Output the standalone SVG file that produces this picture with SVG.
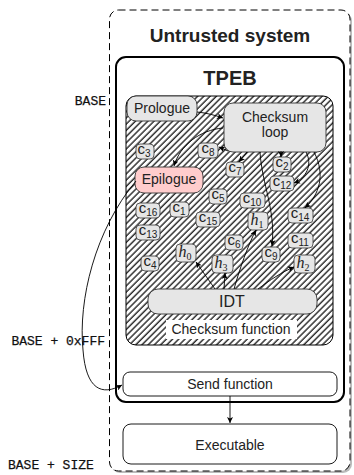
<svg xmlns="http://www.w3.org/2000/svg" width="354" height="475" viewBox="0 0 354 475">
<defs>
<pattern id="hatch" width="4.4" height="4.4" patternUnits="userSpaceOnUse" patternTransform="rotate(45)">
<line x1="1" y1="-1" x2="1" y2="5.4" stroke="#000" stroke-width="1.2"/>
</pattern>
<marker id="ah" markerWidth="7" markerHeight="6" refX="6" refY="3" orient="auto" markerUnits="userSpaceOnUse">
<path d="M0,0 L6,3 L0,6 L1.5,3 z" fill="#000"/>
</marker>
<style>
.t{font-family:"Liberation Sans",Arial,sans-serif;fill:#222;text-anchor:middle}
.m{font-family:"Liberation Mono","Courier New",monospace;font-size:13px;fill:#111;stroke:#111;stroke-width:0.25}
.nd{fill:#e6e6e6;stroke:#333;stroke-width:0.9}
.sm{fill:#e6e6e6;stroke:#333;stroke-width:0.8}
.st{font-family:"Liberation Sans",Arial,sans-serif;font-size:14px;fill:#222;text-anchor:middle}
.ct{font-family:"Liberation Sans",Arial,sans-serif;font-size:15px;fill:#222;text-anchor:middle}
.hi{font-family:"Liberation Serif","Times New Roman",serif;font-style:italic;font-size:16px;fill:#222;text-anchor:middle}
.sub{font-size:10px;font-style:normal}
.cn{fill:none;stroke:#000;stroke-width:0.9;marker-end:url(#ah)}
</style>
</defs>
<rect width="354" height="475" fill="#fff"/>

<g id="untrusted">
<rect x="111" y="12" width="241" height="461" rx="9" fill="#bbb"/>
<rect x="109.5" y="10" width="240.5" height="461" rx="9" fill="#fff" stroke="#000" stroke-width="1" stroke-dasharray="7,4"/>
<text class="t" x="230" y="42" font-size="19" font-weight="bold">Untrusted system</text>
</g>

<g id="labels">
<text class="m" x="106" y="105" text-anchor="end">BASE</text>
<text class="m" x="105" y="345" text-anchor="end">BASE + 0xFFF</text>
<text class="m" x="8" y="469">BASE + SIZE</text>
</g>

<g id="tpeb">
<rect x="116" y="57" width="228" height="345" rx="10" fill="#fff" stroke="#000" stroke-width="2"/>
<text class="t" x="230" y="85" font-size="20" font-weight="bold">TPEB</text>
</g>

<g id="checksum-function">
<rect x="126" y="96" width="207" height="249" rx="10" fill="url(#hatch)" stroke="#000" stroke-width="1"/>
<rect x="166" y="320" width="131" height="19" fill="#fff"/>
<text class="st" x="231" y="334">Checksum function</text>
</g>

<g id="prologue">
<rect class="nd" x="127" y="96" width="70" height="25" rx="9"/>
<text class="st" x="162" y="113">Prologue</text>
</g>

<g id="checksum-loop">
<rect class="nd" x="224" y="103" width="102" height="49" rx="9"/>
<text class="st" x="275" y="122">Checksum</text>
<text class="st" x="275" y="137">loop</text>
</g>

<g id="epilogue">
<rect x="135" y="167" width="68" height="26" rx="9" fill="#ffcccc" stroke="#333" stroke-width="0.9"/>
<text class="st" x="169" y="184">Epilogue</text>
</g>

<g id="idt">
<rect class="nd" x="148" y="289" width="169" height="25" rx="10"/>
<text class="t" x="232" y="307" font-size="16">IDT</text>
</g>

<g id="send">
<rect x="123" y="372" width="214" height="24" rx="7" fill="#fff" stroke="#000" stroke-width="0.9"/>
<text class="st" x="230" y="389">Send function</text>
</g>

<g id="executable">
<rect x="123" y="424" width="214" height="40" rx="8" fill="#fff" stroke="#000" stroke-width="0.9"/>
<text class="st" x="230" y="450">Executable</text>
</g>

<g id="c3"><rect class="sm" x="136" y="144" width="18" height="15" rx="4"/><text class="ct" x="144" y="154">c<tspan class="sub" dy="3">3</tspan></text></g>
<g id="c8"><rect class="sm" x="198" y="143" width="20" height="15" rx="4"/><text class="ct" x="208" y="153">c<tspan class="sub" dy="3">8</tspan></text></g>
<g id="c7"><rect class="sm" x="226" y="162" width="18" height="15" rx="4"/><text class="ct" x="235" y="172">c<tspan class="sub" dy="3">7</tspan></text></g>
<g id="c2"><rect class="sm" x="273" y="157" width="18" height="15" rx="4"/><text class="ct" x="282" y="167">c<tspan class="sub" dy="3">2</tspan></text></g>
<g id="c12"><rect class="sm" x="270" y="176" width="24" height="15" rx="4"/><text class="ct" x="282" y="186">c<tspan class="sub" dy="3">12</tspan></text></g>
<g id="c5"><rect class="sm" x="209" y="189" width="18" height="15" rx="4"/><text class="ct" x="218" y="199">c<tspan class="sub" dy="3">5</tspan></text></g>
<g id="c10"><rect class="sm" x="240" y="193" width="25" height="15" rx="4"/><text class="ct" x="252" y="203">c<tspan class="sub" dy="3">10</tspan></text></g>
<g id="c16"><rect class="sm" x="136" y="203" width="24" height="15" rx="4"/><text class="ct" x="148" y="213">c<tspan class="sub" dy="3">16</tspan></text></g>
<g id="c1"><rect class="sm" x="170" y="202" width="19" height="15" rx="4"/><text class="ct" x="179" y="212">c<tspan class="sub" dy="3">1</tspan></text></g>
<g id="c15"><rect class="sm" x="196" y="212" width="24" height="15" rx="4"/><text class="ct" x="208" y="222">c<tspan class="sub" dy="3">15</tspan></text></g>
<g id="h1"><rect class="sm" x="248" y="212" width="20" height="18" rx="4"/><text class="hi" x="257" y="225">h<tspan class="sub" dy="3">1</tspan></text></g>
<g id="c14"><rect class="sm" x="288" y="208" width="25" height="15" rx="4"/><text class="ct" x="300" y="218">c<tspan class="sub" dy="3">14</tspan></text></g>
<g id="c13"><rect class="sm" x="136" y="225" width="24" height="15" rx="4"/><text class="ct" x="148" y="235">c<tspan class="sub" dy="3">13</tspan></text></g>
<g id="c6"><rect class="sm" x="225" y="235" width="18" height="15" rx="4"/><text class="ct" x="234" y="245">c<tspan class="sub" dy="3">6</tspan></text></g>
<g id="c11"><rect class="sm" x="288" y="233" width="25" height="15" rx="4"/><text class="ct" x="300" y="243">c<tspan class="sub" dy="3">11</tspan></text></g>
<g id="h0"><rect class="sm" x="176" y="244" width="20" height="18" rx="4"/><text class="hi" x="185" y="257">h<tspan class="sub" dy="3">0</tspan></text></g>
<g id="c9"><rect class="sm" x="262" y="247" width="18" height="15" rx="4"/><text class="ct" x="271" y="257">c<tspan class="sub" dy="3">9</tspan></text></g>
<g id="c4"><rect class="sm" x="141" y="256" width="18" height="15" rx="4"/><text class="ct" x="150" y="266">c<tspan class="sub" dy="3">4</tspan></text></g>
<g id="h3"><rect class="sm" x="212" y="255" width="21" height="18" rx="4"/><text class="hi" x="221" y="268">h<tspan class="sub" dy="3">3</tspan></text></g>
<g id="h2"><rect class="sm" x="294" y="255" width="21" height="18" rx="4"/><text class="hi" x="303" y="268">h<tspan class="sub" dy="3">2</tspan></text></g>

<g id="connectors">
<path class="cn" d="M197,112 C207,113 214,115 223,118"/>
<path class="cn" d="M223,128 C200,130 180,145 174,166"/>
<path class="cn" d="M228,151 L219,147"/>
<path class="cn" d="M247,152 L239,162"/>
<path class="cn" d="M281,151 L281,157"/>
<path class="cn" d="M306,152 C313,165 306,178 294,183"/>
<path class="cn" d="M314,152 C326,175 319,195 305,208"/>
<path class="cn" d="M260,152 C262,185 276,210 272,246"/>
<path class="cn" d="M215,289 L196,262"/>
<path class="cn" d="M224,289 L225,273"/>
<path class="cn" d="M234,289 C240,268 248,245 256,230"/>
<path class="cn" d="M258,289 C270,280 282,272 294,267"/>
<path class="cn" d="M136,181 C95,230 78,300 83,350 C86,390 102,396 122,385"/>
<path class="cn" d="M230,396 L230,423"/>
</g>
</svg>
